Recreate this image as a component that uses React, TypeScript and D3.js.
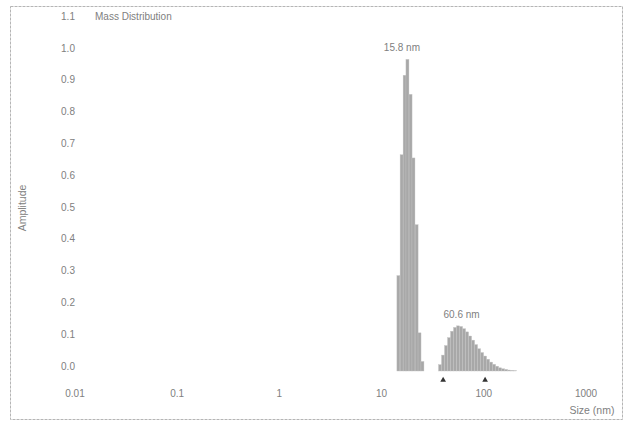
import * as d3 from 'd3';

// peak 1 (around 15.8 nm)
const peak1Sizes = [14.6, 15.7, 16.8, 17.9, 19.2, 20.5, 22.0, 23.5, 25.1];
const peak1Amps = [0.30, 0.68, 0.93, 0.98, 0.87, 0.67, 0.46, 0.12, 0.03];

// peak 2 (around 60.6 nm)
const peak2Sizes = [37.3, 39.9, 42.7, 45.7, 48.9, 52.3, 56.0, 59.9, 64.1, 68.6, 73.4, 78.5, 84.0,
  89.9, 96.2, 102.9, 110.1, 117.8, 126.1, 134.9, 144.3, 154.4, 165.2, 176.8, 189.2, 202.4];
const peak2Amps = [0.02, 0.05, 0.08, 0.105, 0.125, 0.137, 0.142, 0.14, 0.133, 0.123, 0.11, 0.097, 0.083,
  0.07, 0.058, 0.047, 0.037, 0.028, 0.021, 0.015, 0.01, 0.007, 0.005, 0.003, 0.002, 0.001];

const peakLabels = [{ size: 15.8, amp: 0.98, text: '15.8 nm' }, { size: 60.6, amp: 0.142, text: '60.6 nm' }];
const markerSizes = [40, 103];

const xTicks = [0.01, 0.1, 1, 10, 100, 1000];
const xTickLabels = ['0.01', '0.1', '1', '10', '100', '1000'];
const yTicks = [0, 0.1, 0.2, 0.3, 0.4, 0.5, 0.6, 0.7, 0.8, 0.9, 1.0, 1.1];

const W = 624, H = 424;
const font = 'Liberation Sans, Arial, sans-serif';
const txt = '#808080';

export default function App() {
  const x = d3.scaleLog().domain([0.01, 1000]).range([75, 586]);
  const y = d3.scaleLinear().domain([0, 1]).range([371, 53]);
  const half = Math.sqrt(1.07);

  const bars = [
    ...peak1Sizes.map((s, i) => ({ s, a: peak1Amps[i] })),
    ...peak2Sizes.map((s, i) => ({ s, a: peak2Amps[i] })),
  ];

  return (
    <svg width={W} height={H} style={{ position: 'absolute', left: 0, top: 0, background: '#fff' }}>
      <rect x={10.5} y={6.5} width={612} height={413} fill="none" stroke="#b5b5b5" strokeWidth={1} strokeDasharray="3 1" />

      {bars.map((d, i) => (
        <rect key={i}
          x={x(d.s / half)}
          y={y(d.a)}
          width={x(d.s * half) - x(d.s / half)}
          height={y(0) - y(d.a)}
          fill="#a8a8a8"
          stroke="#c4c4c4"
          strokeWidth={0.4} />
      ))}

      {peakLabels.map((p, i) => (
        <text key={i} x={x(p.size)} y={y(p.amp) - 8} textAnchor="middle"
          fontFamily={font} fontSize={10} fill={txt}>{p.text}</text>
      ))}

      {markerSizes.map((s, i) => (
        <path key={i} d={d3.symbol(d3.symbolTriangle, 14)() as string}
          transform={`translate(${x(s)},380)`} fill="#333" />
      ))}

      {yTicks.map((v) => (
        <text key={v} x={68} y={y(v) - 5} dy="0.35em" textAnchor="middle"
          fontFamily={font} fontSize={10} fill={txt}>{v.toFixed(1)}</text>
      ))}

      {xTicks.map((v, i) => (
        <text key={v} x={x(v)} y={393} dy="0.35em" textAnchor="middle"
          fontFamily={font} fontSize={10} fill={txt}>{xTickLabels[i]}</text>
      ))}

      <text x={95} y={16} dy="0.35em" fontFamily={font} fontSize={10} fill={txt}>Mass Distribution</text>
      <text x={592} y={410} dy="0.35em" textAnchor="middle" fontFamily={font} fontSize={10.5} fill={txt}>Size (nm)</text>
      <text transform="translate(22,208) rotate(-90)" dy="0.35em" textAnchor="middle"
        fontFamily={font} fontSize={10.5} fill={txt}>Amplitude</text>
    </svg>
  );
}
